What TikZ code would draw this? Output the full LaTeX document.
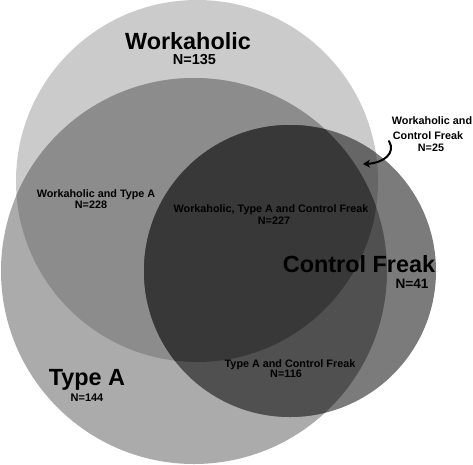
\documentclass[tikz,border=0pt]{standalone}
\usepackage{fontspec}
\setmainfont{Liberation Sans}
\usetikzlibrary{arrows.meta}
\definecolor{cW}{HTML}{CBCBCB}
\definecolor{cT}{HTML}{ABABAB}
\definecolor{cWT}{HTML}{8C8C8C}
\definecolor{cC}{HTML}{7B7B7B}
\definecolor{cWC}{HTML}{666666}
\definecolor{cTC}{HTML}{505050}
\definecolor{cWTC}{HTML}{383838}
\tikzset{
  bigtxt/.style={anchor=base, inner sep=0pt, font=\fontsize{23.4}{28}\selectfont\bfseries},
  numtxt/.style={anchor=base, inner sep=0pt, font=\fontsize{14}{16}\selectfont\bfseries},
  smalltxt/.style={anchor=base, inner sep=0pt, font=\fontsize{10.8}{12}\selectfont\bfseries},
  callout/.style={-{Stealth[length=7pt,width=8pt]}, line width=2pt, line cap=round}
}
\begin{document}
\begin{tikzpicture}[x=1pt,y=-1pt]
\useasboundingbox (0,0) rectangle (473,464);
% base circles
\fill[cW] (197,181) circle[radius=181pt];
\fill[cT] (194,271) circle[radius=193pt];
\begin{scope}
  \clip (197,181) circle[radius=181pt];
  \fill[cWT] (194,271) circle[radius=193pt];
\end{scope}
\fill[cC] (290,271) circle[radius=146pt];
\begin{scope}
  \clip (197,181) circle[radius=181pt];
  \fill[cWC] (290,271) circle[radius=146pt];
\end{scope}
\begin{scope}
  \clip (194,271) circle[radius=193pt];
  \fill[cTC] (290,271) circle[radius=146pt];
\end{scope}
\begin{scope}
  \clip (197,181) circle[radius=181pt];
  \clip (194,271) circle[radius=193pt];
  \fill[cWTC] (290,271) circle[radius=146pt];
\end{scope}
% main labels
\node[bigtxt] (wlab) at (188,49) {Workaholic};
\node[numtxt, font=\fontsize{14.5}{16}\selectfont\bfseries] (wn) at (194.5,64.5) {N=135};
\node[bigtxt] (clab) at (359,272) {Control Freak};
\node[numtxt, font=\fontsize{13.6}{16}\selectfont\bfseries] (cn) at (412,288.5) {N=41};
\node[bigtxt] (tlab) at (87,385) {Type A};
\node[numtxt, font=\fontsize{11}{13}\selectfont\bfseries] (tn) at (87,401) {N=144};
% intersection labels
\node[smalltxt] (wtlab) at (96,197) {Workaholic and Type A};
\node[smalltxt] (wtn) at (91,208) {N=228};
\node[smalltxt] (alllab) at (271,212) {Workaholic, Type A and Control Freak};
\node[smalltxt] (alln) at (274,224) {N=227};
\node[smalltxt] (tclab) at (290,367) {Type A and Control Freak};
\node[smalltxt] (tcn) at (286,377) {N=116};
\node[smalltxt] (wclab1) at (432,124) {Workaholic and};
\node[smalltxt] (wclab2) at (428,139) {Control Freak};
\node[smalltxt] (wcn) at (431,151) {N=25};
% callout arrow
\coordinate (arrs) at (389,141);
\coordinate (arre) at (363,164);
\draw[callout] (arrs) .. controls (396,153) and (384,163) .. (arre);
\end{tikzpicture}
\end{document}
